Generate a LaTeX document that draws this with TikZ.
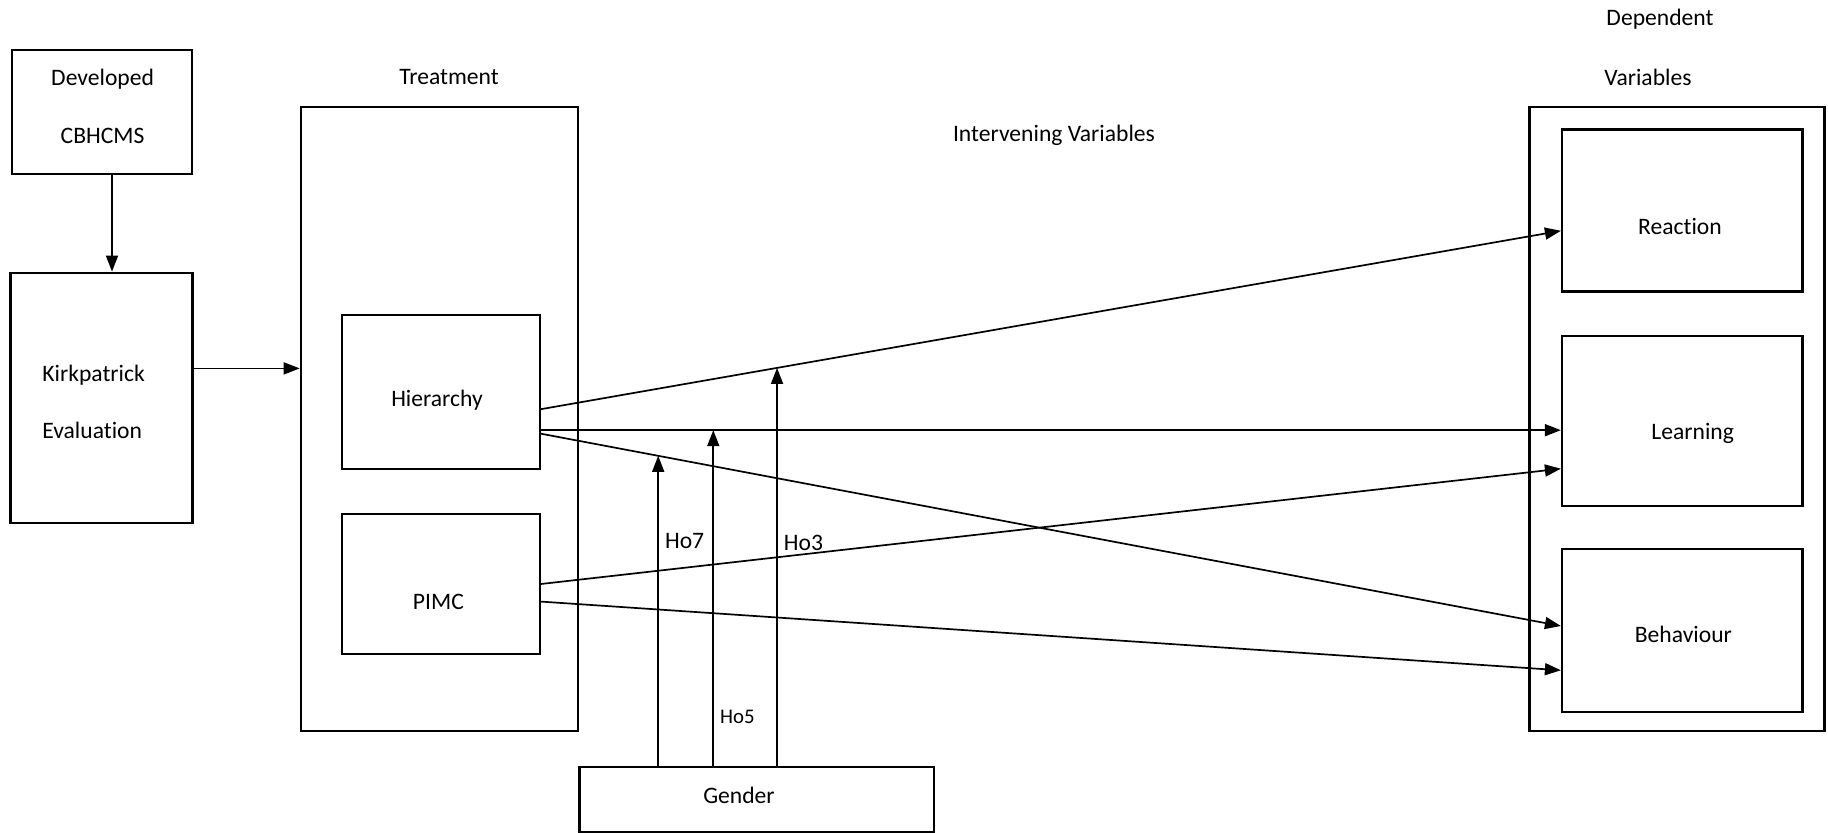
\documentclass[tikz,border=0pt]{standalone}
\usepackage{fontspec}
\setmainfont{Carlito}[Ligatures=NoCommon]
\usetikzlibrary{arrows.meta}

\begin{document}
\begin{tikzpicture}[x=0.5pt,y=-0.5pt,
	every node/.style={font=\fontsize{11.8}{14}\selectfont},
	box/.style={draw,line width=1.1pt,inner sep=0pt},
	lbl/.style={inner sep=0pt,align=center},
	hlbl/.style={inner sep=0pt,anchor=west,xshift=3pt},
	arr/.style={line width=0.85pt,-{Triangle[length=8pt,width=6pt]}}]
	\useasboundingbox (0,0) rectangle (1828,833);
	% left column
	\node[box,minimum width=90.3pt,minimum height=61.8pt] (dev) at (102,112) {};
	\node[lbl] (devtxt) at (102.6,106) {Developed\\[15pt]CBHCMS};
	\node[box,minimum width=91pt,minimum height=125.3pt] (kirk) at (101.5,398) {};
	\node[lbl,anchor=west,align=left] (kirktxt) at (42,401.5) {Kirkpatrick\\[14.5pt]Evaluation};
	% treatment
	\node[lbl] (treatlbl) at (449,77) {Treatment};
	\node[box,minimum width=138.7pt,minimum height=311.8pt] (treat) at (439.5,419.2) {};
	\node[box,minimum width=99.1pt,minimum height=77pt] (hier) at (440.7,391.8) {};
	\node[lbl] (hiertxt) at (437,400) {Hierarchy};
	\node[box,minimum width=99.1pt,minimum height=70pt] (pimc) at (440.7,584) {};
	\node[lbl] (pimctxt) at (438.4,601.6) {PIMC};
	% intervening
	\node[lbl] (intlbl) at (1054,135) {Intervening Variables};
	\node[box,minimum width=177.2pt,minimum height=32.5pt] (gender) at (756.6,799.5) {};
	\node[lbl] (gendertxt) at (739,795) {Gender};
	% dependent variables
	\node[lbl] (deplbl) at (1660,19) {Dependent};
	\node[lbl] (varlbl) at (1648,77) {Variables};
	\node[box,minimum width=147.5pt,minimum height=311.8pt] (dv) at (1677,419.2) {};
	\node[box,minimum width=120.2pt,minimum height=81pt] (reaction) at (1682.2,210.5) {};
	\node[lbl] (reactiontxt) at (1680,226) {Reaction};
	\node[box,minimum width=120.2pt,minimum height=85.2pt] (learning) at (1682.2,420.9) {};
	\node[lbl] (learningtxt) at (1692.7,433.7) {Learning};
	\node[box,minimum width=120.2pt,minimum height=81.7pt] (behaviour) at (1682.2,630.7) {};
	\node[lbl] (behaviourtxt) at (1683.4,634.2) {Behaviour};

	\draw[arr] ([xshift=5pt]dev.south) -- ([xshift=5pt]dev.south |- kirk.north);
	\draw[arr] ([yshift=14.8pt]kirk.east) -- ([yshift=14.8pt]kirk.east -| treat.west);

	\draw[arr] ([yshift=-8.7pt]hier.east) -- coordinate[pos=0.2315] (h3) ([yshift=-10.15pt]reaction.west);
	\draw[arr] ([yshift=-19.2pt]hier.east) -- coordinate[pos=0.169] (h5) ([yshift=-4.65pt]learning.west);
	\draw[arr] ([yshift=-20.95pt]hier.east) -- coordinate[pos=0.115] (h7) ([yshift=2.35pt]behaviour.west);
	\draw[arr] (pimc.east) -- ([yshift=-23.9pt]learning.west);
	\draw[arr] ([yshift=-8.8pt]pimc.east) -- ([yshift=-19.8pt]behaviour.west);

	% gender
	\draw[arr] (gender.north -| h7) -- node[hlbl,pos=0.725] (ho7) {Ho7} (h7);
	\draw[arr] (gender.north -| h5) -- node[hlbl,pos=0.146,font=\fontsize{10.4}{12}\selectfont] (ho5) {Ho5} (h5);
	\draw[arr] (gender.north -| h3) -- node[hlbl,pos=0.561] (ho3) {Ho3} (h3);
\end{tikzpicture}
\end{document}
